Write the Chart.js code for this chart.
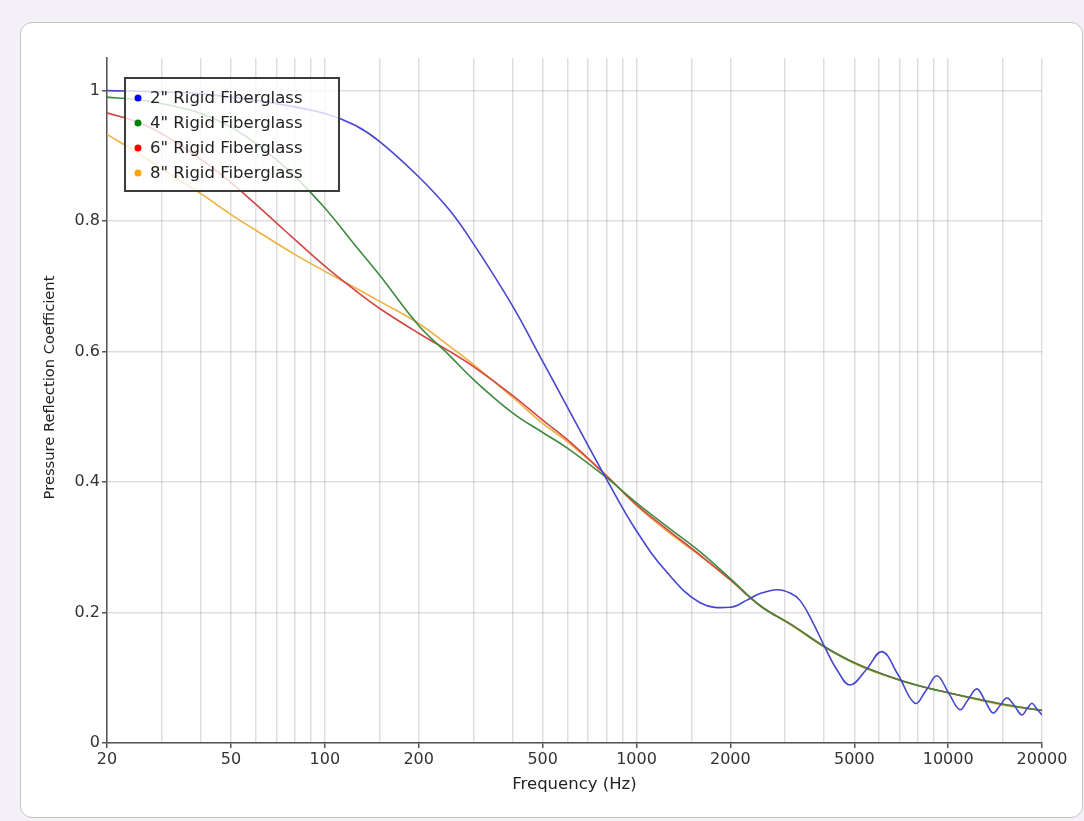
<!DOCTYPE html>
<html>
<head>
<meta charset="utf-8">
<script src="https://cdn.jsdelivr.net/npm/chart.js@4"></script>
<style>
  html, body { margin: 0; padding: 0; background: #f4f0f8; }
  #card {
    position: absolute; left: 20px; top: 22px; width: 1061px; height: 794px;
    background: #fff; border: 1.5px solid #c4c4c4; border-radius: 12px;
  }
  #wrap { position: absolute; left: 0; top: 0; width: 1084px; height: 821px; }
</style>
</head>
<body>
<div id="card"></div>
<div id="wrap"><canvas id="chart" width="1084" height="821"></canvas></div>
<script>
// frequencies (Hz) shared by the smooth curves
const freqs = [20, 25, 30, 40, 50, 60, 70, 80, 100, 125, 150, 200, 250, 300, 400, 500, 600, 800,
  1000, 1250, 1600, 2000, 2500, 3150, 4000, 5000, 6300, 8000, 10000, 12500, 16000, 20000];

const fiberglass4 = [0.99, 0.986, 0.98, 0.965, 0.944, 0.919, 0.894, 0.869, 0.82, 0.763, 0.717, 0.64,
  0.595, 0.557, 0.506, 0.476, 0.452, 0.407, 0.368, 0.332, 0.293, 0.252, 0.21, 0.181, 0.148, 0.123,
  0.104, 0.088, 0.077, 0.067, 0.057, 0.05];

const fiberglass6 = [0.966, 0.952, 0.934, 0.895, 0.859, 0.826, 0.797, 0.772, 0.731, 0.694, 0.666, 0.628,
  0.601, 0.577, 0.533, 0.495, 0.465, 0.41, 0.365, 0.328, 0.288, 0.25, 0.21, 0.181, 0.148, 0.123,
  0.104, 0.088, 0.077, 0.067, 0.057, 0.05];

const fiberglass8 = [0.933, 0.905, 0.88, 0.842, 0.81, 0.786, 0.766, 0.749, 0.723, 0.698, 0.677, 0.643,
  0.609, 0.58, 0.53, 0.49, 0.462, 0.41, 0.364, 0.325, 0.287, 0.25, 0.21, 0.18, 0.147, 0.122,
  0.103, 0.088, 0.077, 0.066, 0.056, 0.05];

// 2" curve ripples at high frequency, so it has its own denser frequency list
const freqs2 = [20, 30, 40, 50, 70, 100, 125, 150, 200, 250, 300, 400, 500, 600, 800, 1000, 1250, 1600,
  2000, 2260, 2490, 2820, 3110, 3340, 3660, 4020, 4400, 4840, 5450, 6130, 6900, 7820, 8480, 9200,
  10000, 10900, 11570, 12360, 13120, 13920, 14650, 15440, 16370, 17240, 17890, 18560, 19260, 20000];

const fiberglass2 = [1.0, 0.998, 0.995, 0.99, 0.98, 0.965, 0.947, 0.922, 0.868, 0.818, 0.765, 0.67,
  0.585, 0.515, 0.405, 0.325, 0.262, 0.215, 0.208, 0.219, 0.229, 0.235, 0.23, 0.219, 0.187, 0.147,
  0.112, 0.089, 0.112, 0.14, 0.105, 0.061, 0.08, 0.103, 0.078, 0.051, 0.066, 0.083, 0.065, 0.046,
  0.057, 0.069, 0.056, 0.043, 0.052, 0.061, 0.052, 0.043];

const seriesNames = ['2" Rigid Fiberglass', '4" Rigid Fiberglass', '6" Rigid Fiberglass', '8" Rigid Fiberglass'];
const lineColors = ['#4646cc', '#3f8a3f', '#d24646', '#eeb040'];
const dotColors = ['#0000ff', '#008000', '#ff0000', '#ffa500'];

const xTickLabels = [20, 50, 100, 200, 500, 1000, 2000, 5000, 10000, 20000];
const yTicks = [0, 0.2, 0.4, 0.6, 0.8, 1];

const FONT = '"DejaVu Sans", Verdana, sans-serif';

function pairs(xs, ys) {
  return xs.map((x, i) => ({x: x, y: ys[i]}));
}

function isLabelled(v) {
  return xTickLabels.some(t => Math.abs(t - v) < 1e-6 * t);
}

const seriesData = [
  pairs(freqs2, fiberglass2),
  pairs(freqs, fiberglass4),
  pairs(freqs, fiberglass6),
  pairs(freqs, fiberglass8)
];

// legend box drawn inside the plot, over the lines
const boxLegend = {
  id: 'boxLegend',
  afterDatasetsDraw(chart) {
    const c = chart.ctx;
    const a = chart.chartArea;
    const left = a.left + 18, top = a.top + 20, w = 214, h = 113;
    c.save();
    c.fillStyle = 'rgba(255,255,255,0.78)';
    c.fillRect(left, top, w, h);
    c.strokeStyle = '#3c3c3c';
    c.lineWidth = 2;
    c.strokeRect(left, top, w, h);
    c.font = '16.5px ' + FONT;
    c.textBaseline = 'middle';
    chart.data.datasets.forEach((ds, i) => {
      const y = top + 20 + i * 25;
      c.fillStyle = dotColors[i];
      c.beginPath();
      c.arc(left + 13, y, 3.5, 0, Math.PI * 2);
      c.fill();
      c.fillStyle = '#222';
      c.fillText(ds.label, left + 25, y + 1);
    });
    c.restore();
  }
};

// y title drawn by hand, it sits a bit above the middle of the axis
const yTitle = {
  id: 'yTitle',
  afterDraw(chart) {
    const c = chart.ctx;
    const a = chart.chartArea;
    c.save();
    c.translate(a.left - 57, (a.top + a.bottom) / 2 - 13);
    c.rotate(-Math.PI / 2);
    c.font = '14.7px ' + FONT;
    c.fillStyle = '#222';
    c.textAlign = 'center';
    c.textBaseline = 'middle';
    c.fillText('Pressure Reflection Coefficient', 0, 0);
    c.restore();
  }
};

new Chart(document.getElementById('chart'), {
  type: 'line',
  data: {
    datasets: seriesNames.map((name, i) => ({
      label: name,
      data: seriesData[i],
      borderColor: lineColors[i],
      borderWidth: 1.6,
      pointRadius: 0,
      fill: false,
      tension: 0.4
    }))
  },
  options: {
    responsive: false,
    animation: false,
    layout: {padding: {left: 40, top: 58, right: 42, bottom: 22}},
    plugins: {legend: {display: false}, tooltip: {enabled: false}},
    scales: {
      x: {
        type: 'logarithmic',
        min: 20,
        max: 20000,
        afterFit: s => { s.height = 56; },
        border: {color: '#555', width: 1.5},
        grid: {
          color: 'rgba(0,0,0,0.13)',
          lineWidth: 1.5,
          tickLength: 5,
          tickColor: ctx => (ctx.tick && isLabelled(ctx.tick.value)) ? '#555' : 'rgba(0,0,0,0)'
        },
        ticks: {
          autoSkip: false,
          maxRotation: 0,
          padding: 2,
          color: '#333',
          font: {family: FONT, size: 16},
          callback: v => isLabelled(v) ? String(v) : ''
        },
        title: {display: true, text: 'Frequency (Hz)', color: '#222', font: {family: FONT, size: 16.5}}
      },
      y: {
        type: 'linear',
        min: 0,
        max: 1.05,
        afterFit: s => { s.width = 67; },
        afterBuildTicks: s => { s.ticks = yTicks.map(v => ({value: v})); },
        border: {color: '#555', width: 1.5},
        grid: {color: 'rgba(0,0,0,0.13)', lineWidth: 1.5, tickLength: 5, tickColor: '#555'},
        ticks: {
          padding: 2,
          color: '#333',
          font: {family: FONT, size: 16},
          callback: v => String(+v.toFixed(1))
        }
      }
    }
  },
  plugins: [boxLegend, yTitle]
});
</script>
</body>
</html>
